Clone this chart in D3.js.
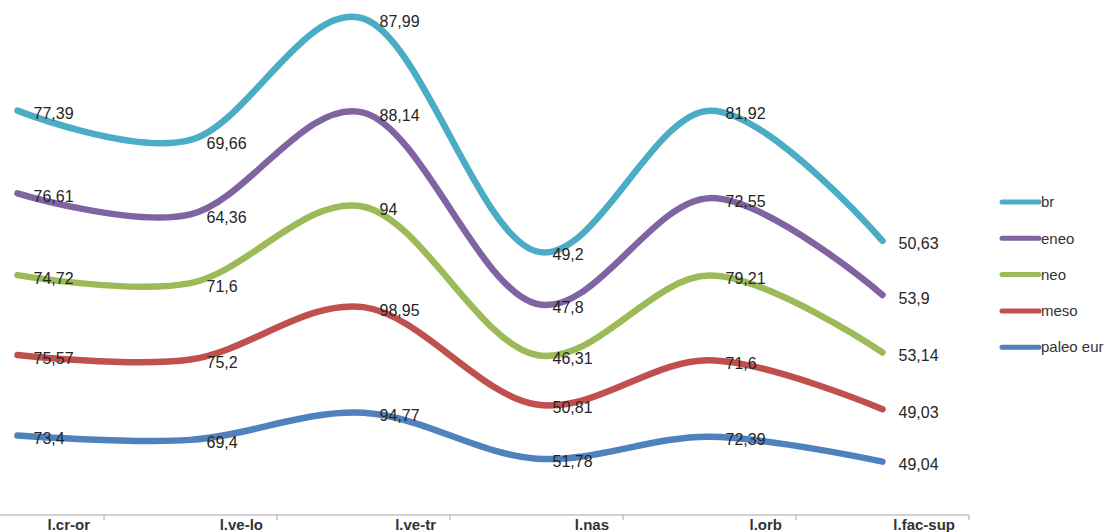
<!DOCTYPE html>
<html>
<head>
<meta charset="utf-8">
<script src="https://cdn.jsdelivr.net/npm/d3@7"></script>
<style>
  html, body { margin: 0; padding: 0; background: #fff; }
  svg { display: block; }
</style>
</head>
<body>
<svg id="chart" width="1116" height="532"></svg>
<script>
// ---- data ----
const categories = ["l.cr-or", "l.ve-lo", "l.ve-tr", "l.nas", "l.orb", "l.fac-sup"];
// series listed bottom-to-top (stacked line chart)
const seriesNames = ["paleo eur", "meso", "neo", "eneo", "br"];
const paleoEur = [73.4, 69.4, 94.77, 51.78, 72.39, 49.04];
const meso     = [75.57, 75.2, 98.95, 50.81, 71.6, 49.03];
const neo      = [74.72, 71.6, 94, 46.31, 79.21, 53.14];
const eneo     = [76.61, 64.36, 88.14, 47.8, 72.55, 53.9];
const br       = [77.39, 69.66, 87.99, 49.2, 81.92, 50.63];
const legendOrder = ["br", "eneo", "neo", "meso", "paleo eur"];
const colors = {"br": "#4BACC6", "eneo": "#8064A2", "neo": "#9BBB59", "meso": "#C0504D", "paleo eur": "#4F81BD"};

const seriesValues = [paleoEur, meso, neo, eneo, br];

// ---- layout ----
const svg = d3.select("#chart");
const x = d3.scaleBand().domain(categories).range([-69, 969]).paddingInner(0).paddingOuter(0);
const y = d3.scaleLinear().domain([0, 500]).range([514, -20]);
const cx = c => x(c) + x.bandwidth() / 2;

// stacked cumulative values
const stacked = [];
let running = categories.map(() => 0);
seriesValues.forEach((vals, si) => {
  running = running.map((r, i) => r + vals[i]);
  stacked.push({ name: seriesNames[si], vals: vals, cum: running.slice() });
});

// ---- axis ----
const axisY = y(0) + 1;
svg.append("line")
  .attr("x1", x.range()[0]).attr("x2", x.range()[1])
  .attr("y1", axisY).attr("y2", axisY)
  .attr("stroke", "#a6a6a6").attr("stroke-width", 1.2);
categories.forEach(c => {
  const tx = x(c) + x.bandwidth();
  svg.append("line")
    .attr("x1", tx).attr("x2", tx)
    .attr("y1", axisY).attr("y2", axisY + 5)
    .attr("stroke", "#a6a6a6").attr("stroke-width", 1);
});
svg.append("g").selectAll("text").data(categories).join("text")
  .attr("x", c => x(c) + x.bandwidth() - 14)
  .attr("y", 530)
  .attr("text-anchor", "end")
  .attr("font-family", "Liberation Sans, Arial, sans-serif")
  .attr("font-weight", "bold")
  .attr("font-size", 15)
  .attr("fill", "#333")
  .text(c => c);

// ---- lines ----
const line = d3.line()
  .x((d, i) => cx(categories[i]))
  .y(d => y(d))
  .curve(d3.curveCardinal.tension(0));

const gLines = svg.append("g");
stacked.forEach(s => {
  gLines.append("path")
    .attr("d", line(s.cum))
    .attr("fill", "none")
    .attr("stroke", colors[s.name])
    .attr("stroke-width", 6.5)
    .attr("stroke-linecap", "round")
    .attr("stroke-linejoin", "round");
});

// ---- data labels ----
const fmt = v => String(v).replace(".", ",");
const gLabels = svg.append("g");
stacked.forEach(s => {
  s.cum.forEach((v, i) => {
    gLabels.append("text")
      .attr("x", cx(categories[i]) + 16)
      .attr("y", y(v) + 3)
      .attr("dy", "0.35em")
      .attr("font-family", "Liberation Sans, Arial, sans-serif")
      .attr("font-size", 16)
      .attr("fill", "#262626")
      .text(fmt(s.vals[i]));
  });
});

// ---- legend ----
const lg = svg.append("g");
legendOrder.forEach((name, i) => {
  const ly = 202 + i * 36.3;
  lg.append("line")
    .attr("x1", 1002).attr("x2", 1039)
    .attr("y1", ly).attr("y2", ly)
    .attr("stroke", colors[name]).attr("stroke-width", 5)
    .attr("stroke-linecap", "round");
  lg.append("text")
    .attr("x", 1041).attr("y", ly)
    .attr("dy", "0.35em")
    .attr("font-family", "Liberation Sans, Arial, sans-serif")
    .attr("font-size", 15)
    .attr("fill", "#333")
    .text(name);
});
</script>
</body>
</html>
